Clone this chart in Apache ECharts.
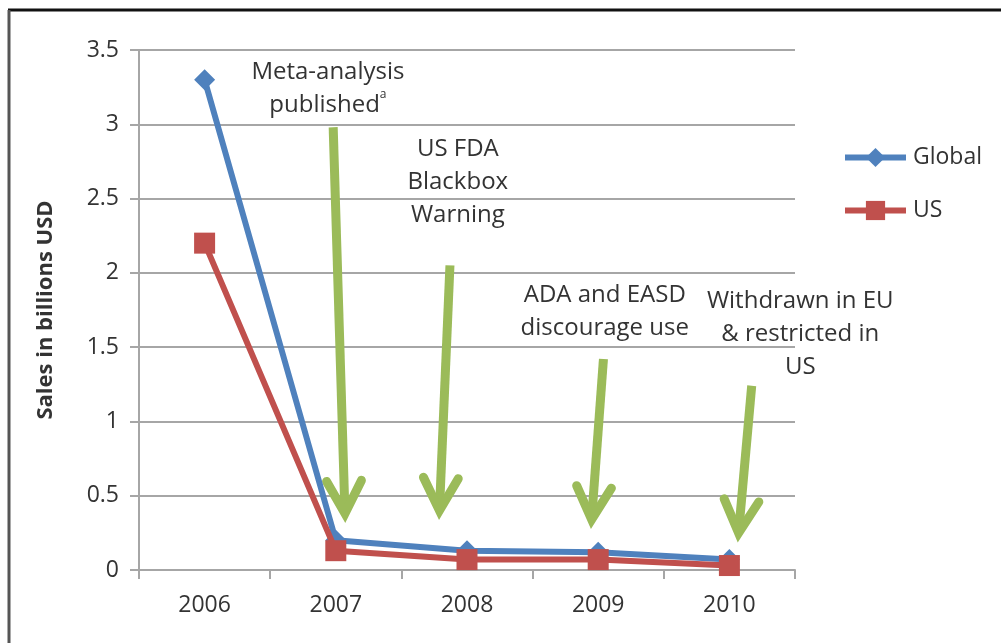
<!DOCTYPE html>
<html>
<head>
<meta charset="utf-8">
<script src="https://cdn.jsdelivr.net/npm/echarts@6/dist/echarts.min.js"></script>
<style>html,body{margin:0;padding:0;background:#fff}#c{width:1001px;height:643px}</style>
</head>
<body>
<div id="c"></div>
<script>
const years = ['2006', '2007', '2008', '2009', '2010'];
const globalSales = [3.3, 0.2, 0.13, 0.12, 0.07];
const usSales = [2.2, 0.13, 0.07, 0.07, 0.03];
const yTicks = { min: 0, max: 3.5, interval: 0.5 };
const yTitle = 'Sales in billions USD';
// annotation arrows: [xStart, yStart, xEnd, yEnd] in category-index / value units
const arrows = [
  [0.98, 2.98, 1.07, 0.38],
  [1.87, 2.05, 1.79, 0.40],
  [3.04, 1.42, 2.95, 0.34],
  [4.17, 1.24, 4.07, 0.25]
];
// annotation labels: [x, y, text]
const notes = [
  [0.94, 3.24, 'Meta-analysis\npublished{sup|a}'],
  [1.93, 2.61, 'US FDA\nBlackbox\nWarning'],
  [3.05, 1.74, 'ADA and EASD\ndiscourage use'],
  [4.54, 1.59, 'Withdrawn in EU\n& restricted in\nUS']
];

const FONT = '"Open Sans", "Noto Sans", sans-serif';
const TXT = '#333333';
const GRIDC = '#a6a6a6';
const chart = echarts.init(document.getElementById('c'), null, { renderer: 'canvas' });

chart.setOption({
  animation: false,
  textStyle: { fontFamily: FONT },
  grid: { left: 139, right: 206, top: 50, bottom: 73, containLabel: false },
  legend: {
    orient: 'vertical', left: 842, top: 146, itemGap: 30, padding: 0,
    itemWidth: 61, itemHeight: 24,
    data: ['Global', 'US'],
    lineStyle: { width: 6 },
    textStyle: { fontSize: 23, color: TXT, fontFamily: FONT, padding: [0, 0, 0, 2] }
  },
  xAxis: [{
    type: 'category', data: years, boundaryGap: true,
    axisLine: { lineStyle: { color: GRIDC, width: 2 } },
    axisTick: { show: true, length: 9, lineStyle: { color: GRIDC, width: 2 } },
    axisLabel: { fontSize: 23, color: TXT, margin: 24, fontFamily: FONT }
  }, {
    type: 'value', min: -0.5, max: 4.5, show: false
  }],
  yAxis: {
    type: 'value', min: yTicks.min, max: yTicks.max, interval: yTicks.interval,
    name: yTitle, nameLocation: 'middle', nameGap: 82, nameRotate: 90,
    nameTextStyle: { fontSize: 22, fontWeight: 'bold', color: TXT, fontFamily: FONT },
    axisLine: { show: true, onZero: false, lineStyle: { color: GRIDC, width: 2 } },
    axisTick: { show: true, length: 9, lineStyle: { color: GRIDC, width: 2 } },
    axisLabel: { fontSize: 23, color: TXT, margin: 20, fontFamily: FONT },
    splitLine: { lineStyle: { color: GRIDC, width: 2 } }
  },
  graphic: [
    { type: 'line', shape: { x1: 8, y1: 10, x2: 1001, y2: 10 }, style: { stroke: '#111', lineWidth: 3 } },
    { type: 'line', shape: { x1: 9, y1: 10, x2: 9, y2: 643 }, style: { stroke: '#555', lineWidth: 3 } }
  ],
  series: [
    {
      name: 'Global', type: 'line', data: globalSales,
      symbol: 'diamond', symbolSize: 21,
      lineStyle: { color: '#4F81BD', width: 6 },
      itemStyle: { color: '#4F81BD' }, z: 3
    },
    {
      name: 'US', type: 'line', data: usSales,
      symbol: 'rect', symbolSize: 21,
      lineStyle: { color: '#C0504D', width: 6 },
      itemStyle: { color: '#C0504D' }, z: 4
    },
    {
      type: 'custom', xAxisIndex: 1, data: arrows, clip: false, silent: true, z: 2,
      renderItem: function (params, api) {
        const p0 = api.coord([api.value(0), api.value(1)]);
        const p1 = api.coord([api.value(2), api.value(3)]);
        const dx = p1[0] - p0[0], dy = p1[1] - p0[1];
        const len = Math.sqrt(dx * dx + dy * dy);
        const ux = dx / len, uy = dy / len;
        const L = 37, ang = 0.49;
        const arm = function (s) {
          const c = Math.cos(s * ang), sn = Math.sin(s * ang);
          const bx = -ux, by = -uy;
          return [p1[0] + L * (bx * c - by * sn), p1[1] + L * (bx * sn + by * c)];
        };
        const st = { stroke: '#9BBB59', lineWidth: 9, lineCap: 'round', lineJoin: 'miter', fill: null };
        return {
          type: 'group', children: [
            { type: 'line', shape: { x1: p0[0], y1: p0[1], x2: p1[0] - ux * 3, y2: p1[1] - uy * 3 }, style: Object.assign({}, st, { lineCap: 'butt' }) },
            { type: 'polyline', shape: { points: [arm(1), p1, arm(-1)] }, style: st }
          ]
        };
      }
    },
    {
      type: 'custom', xAxisIndex: 1, data: notes, clip: false, silent: true, z: 5,
      renderItem: function (params, api) {
        const p = api.coord([api.value(0), api.value(1)]);
        return {
          type: 'text', x: p[0], y: p[1],
          style: {
            text: notes[params.dataIndex][2], align: 'center', verticalAlign: 'middle',
            fontSize: 24, lineHeight: 33, fill: TXT, fontFamily: FONT,
            rich: { sup: { fontSize: 12, verticalAlign: 'top', lineHeight: 33, padding: [0, 0, 12, 0], fill: TXT, fontFamily: FONT } }
          }
        };
      }
    }
  ]
});
</script>
</body>
</html>
